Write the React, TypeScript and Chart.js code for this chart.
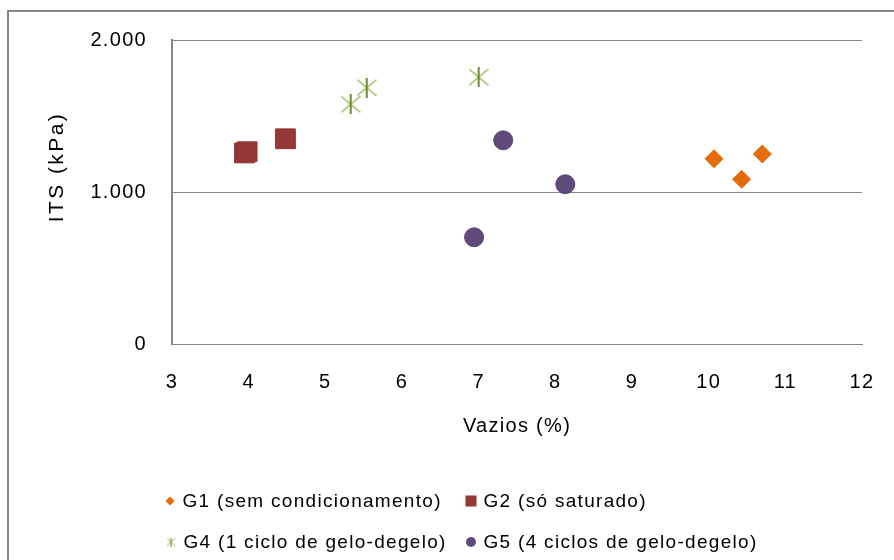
import React, { useEffect, useRef } from 'react';
import { Chart, registerables } from 'chart.js';

Chart.register(...registerables);

// ---- data ----
const g1X = [10.07, 10.43, 10.7];
const g1Y = [1219, 1084, 1250];
const g2X = [3.945, 3.98, 4.48];
const g2Y = [1257, 1265, 1350];
const g4X = [5.33, 5.54, 7.0];
const g4Y = [1577, 1686, 1755];
const g5X = [6.94, 7.32, 8.13];
const g5Y = [702, 1340, 1051];

const seriesLabels = [
  'G1 (sem condicionamento)',
  'G2 (só saturado)',
  'G4 (1 ciclo de gelo-degelo)',
  'G5 (4 ciclos de gelo-degelo)',
];
const xRange = [3, 12];
const xStep = 1;
const yRange = [0, 2000];
const yStep = 1000;
const xTitle = 'Vazios (%)';
const yTitle = 'ITS (kPa)';

const FONT = '"Liberation Sans", Arial, Helvetica, sans-serif';
const LS = '1.3px';
const GRID = '#868686';
const C1 = '#E46C0A';
const C2 = '#953735';
const C4L = '#8FB04E';
const C4D = '#6E8C32';
const C5 = '#604A7B';

const toPts = (xs: number[], ys: number[]) => xs.map((x, i) => ({ x, y: ys[i] }));
const fmt = (v: number) => Math.round(v).toString().replace(/\B(?=(\d{3})+(?!\d))/g, '.');

function makeStar(size: number, vw: number, dw: number) {
  const c = document.createElement('canvas');
  c.width = size;
  c.height = size;
  const ctx = c.getContext('2d')!;
  const h = size / 2;
  const dy = size * 0.4;
  ctx.strokeStyle = C4L;
  ctx.lineWidth = dw;
  ctx.beginPath();
  ctx.moveTo(0.5, h - dy);
  ctx.lineTo(size - 0.5, h + dy);
  ctx.moveTo(0.5, h + dy);
  ctx.lineTo(size - 0.5, h - dy);
  ctx.stroke();
  ctx.strokeStyle = C4D;
  ctx.lineWidth = vw;
  ctx.beginPath();
  ctx.moveTo(h, 0);
  ctx.lineTo(h, size);
  ctx.stroke();
  return c;
}

function drawLegendMarker(ctx: CanvasRenderingContext2D, i: number, x: number, y: number, star: HTMLCanvasElement) {
  ctx.save();
  if (i === 0) {
    ctx.fillStyle = C1;
    ctx.beginPath();
    ctx.moveTo(x - 4.5, y);
    ctx.lineTo(x, y - 4.5);
    ctx.lineTo(x + 4.5, y);
    ctx.lineTo(x, y + 4.5);
    ctx.closePath();
    ctx.fill();
  } else if (i === 1) {
    ctx.fillStyle = C2;
    ctx.fillRect(x - 5.5, y - 5.5, 11, 11);
  } else if (i === 2) {
    ctx.drawImage(star, x - star.width / 2, y - star.height / 2);
  } else {
    ctx.fillStyle = C5;
    ctx.beginPath();
    ctx.arc(x, y, 5, 0, Math.PI * 2);
    ctx.fill();
  }
  ctx.restore();
}

export default function App() {
  const ref = useRef<HTMLCanvasElement>(null);

  useEffect(() => {
    if (!ref.current) return;
    const bigStar = makeStar(20, 2, 1.2);
    const smallStar = makeStar(9, 1, 1);

    const framePlugin = {
      id: 'frameAndSpacing',
      beforeLayout(chart: any) {
        chart.ctx.letterSpacing = LS;
      },
      beforeDraw(chart: any) {
        const ctx = chart.ctx;
        ctx.letterSpacing = LS;
        ctx.save();
        ctx.fillStyle = '#fff';
        ctx.fillRect(0, 0, chart.width, chart.height);
        ctx.strokeStyle = GRID;
        ctx.lineWidth = 2;
        ctx.strokeRect(8, 11, chart.width + 20, chart.height + 20);
        ctx.restore();
      },
      afterDraw(chart: any) {
        const ctx = chart.ctx;
        ctx.save();
        ctx.letterSpacing = '2.4px';
        // y-axis title
        ctx.fillStyle = '#000';
        ctx.font = `21px ${FONT}`;
        ctx.textAlign = 'center';
        ctx.textBaseline = 'middle';
        ctx.translate(57, 167);
        ctx.rotate(-Math.PI / 2);
        ctx.fillText(yTitle, 0, 0);
        ctx.restore();

        // legend (two columns)
        ctx.save();
        ctx.letterSpacing = LS;
        ctx.font = `19px ${FONT}`;
        ctx.textBaseline = 'middle';
        ctx.textAlign = 'left';
        ctx.fillStyle = '#000';
        const pos = [
          [170, 501],
          [471, 501],
          [171, 542],
          [471, 542],
        ];
        chart.data.datasets.forEach((ds: any, i: number) => {
          const [x, y] = pos[i];
          drawLegendMarker(ctx, i, x, y, smallStar);
          ctx.fillText(ds.label, x + 12.5, y + 1);
        });
        ctx.restore();
      },
    };

    const chart = new Chart(ref.current, {
      type: 'scatter',
      data: {
        datasets: [
          {
            label: seriesLabels[0],
            data: toPts(g1X, g1Y),
            pointStyle: 'rectRot',
            pointRadius: 9,
            pointBorderWidth: 1,
            backgroundColor: C1,
            borderColor: C1,
          },
          {
            label: seriesLabels[1],
            data: toPts(g2X, g2Y),
            pointStyle: 'rect',
            pointRadius: 14,
            pointBorderWidth: 1,
            backgroundColor: C2,
            borderColor: C2,
          },
          {
            label: seriesLabels[2],
            data: toPts(g4X, g4Y),
            pointStyle: bigStar as any,
            pointRadius: 10,
            backgroundColor: C4L,
            borderColor: C4L,
          },
          {
            label: seriesLabels[3],
            data: toPts(g5X, g5Y),
            pointStyle: 'circle',
            pointRadius: 9.5,
            pointBorderWidth: 1,
            backgroundColor: C5,
            borderColor: C5,
          },
        ],
      },
      options: {
        responsive: false,
        animation: false,
        devicePixelRatio: 1,
        layout: { padding: { top: 40, right: 32, bottom: 121, left: 0 } },
        plugins: {
          legend: { display: false },
          tooltip: { enabled: false },
        },
        scales: {
          x: {
            type: 'linear',
            min: xRange[0],
            max: xRange[1],
            afterFit: (s: any) => {
              s.height = 95;
            },
            ticks: {
              stepSize: xStep,
              padding: 0,
              color: '#000',
              font: { size: 20, family: FONT },
            },
            grid: { display: false, drawTicks: true, tickLength: 26 },
            border: { display: true, color: GRID, width: 1 },
            title: {
              display: true,
              text: xTitle,
              color: '#000',
              font: { size: 20, family: FONT },
              padding: { top: 0, bottom: 1 },
            },
          },
          y: {
            type: 'linear',
            min: yRange[0],
            max: yRange[1],
            afterFit: (s: any) => {
              s.width = 172;
            },
            ticks: {
              stepSize: yStep,
              padding: 25,
              color: '#000',
              font: { size: 20, family: FONT },
              callback: (v: any) => fmt(Number(v)),
            },
            grid: { color: GRID, lineWidth: 1, drawTicks: false },
            border: { display: true, color: GRID, width: 2 },
          },
        },
      },
      plugins: [framePlugin],
    } as any);

    return () => chart.destroy();
  }, []);

  return (
    <div style={{ position: 'fixed', left: 0, top: 0, width: 894, height: 560, background: '#fff' }}>
      <canvas ref={ref} width={894} height={560} />
    </div>
  );
}
